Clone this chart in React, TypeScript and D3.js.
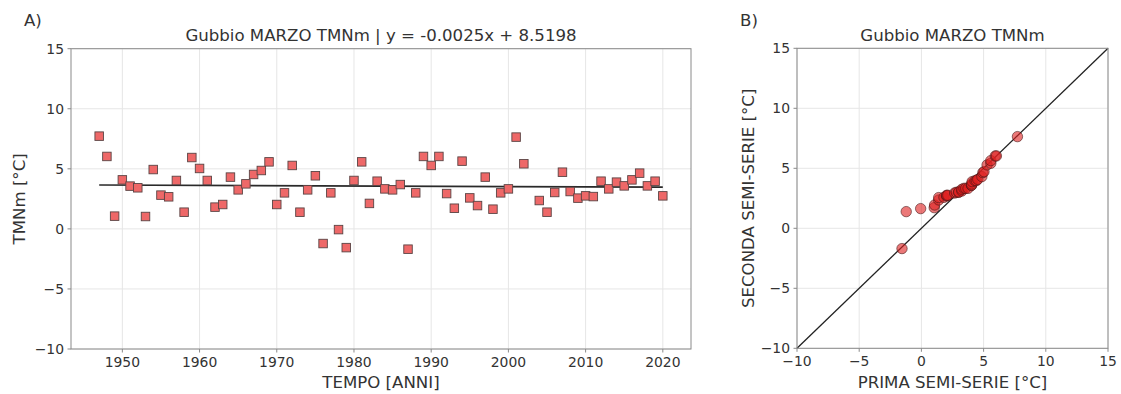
import React from "react";
import * as d3 from "d3";

// Annual March mean minimum temperature (TMNm) at Gubbio, °C
const years: number[] = [
  1947, 1948, 1949, 1950, 1951, 1952, 1953, 1954, 1955, 1956, 1957, 1958, 1959,
  1960, 1961, 1962, 1963, 1964, 1965, 1966, 1967, 1968, 1969, 1970, 1971, 1972,
  1973, 1974, 1975, 1976, 1977, 1978, 1979, 1980, 1981, 1982, 1983, 1984, 1985,
  1986, 1987, 1988, 1989, 1990, 1991, 1992, 1993, 1994, 1995, 1996, 1997, 1998,
  1999, 2000, 2001, 2002, 2004, 2005, 2006, 2007, 2008, 2009, 2010, 2011, 2012,
  2013, 2014, 2015, 2016, 2017, 2018, 2019, 2020,
];
const tmnm: number[] = [
  7.72, 6.03, 1.06, 4.08, 3.56, 3.42, 1.03, 4.94, 2.81, 2.67, 4.03, 1.39, 5.94,
  5.03, 4.03, 1.81, 2.03, 4.31, 3.25, 3.75, 4.53, 4.86, 5.58, 2.03, 3.0, 5.28,
  1.39, 3.25, 4.42, -1.22, 3.0, -0.06, -1.56, 4.03, 5.58, 2.12, 3.97, 3.33, 3.25,
  3.69, -1.69, 3.0, 6.03, 5.28, 6.03, 2.94, 1.72, 5.64, 2.58, 1.94, 4.31, 1.64,
  3.0, 3.33, 7.64, 5.42, 2.36, 1.39, 3.03, 4.72, 3.11, 2.56, 2.75, 2.69, 3.97,
  3.33, 3.89, 3.58, 4.08, 4.64, 3.58, 3.97, 2.75,
];

// Linear trend stated in the title
const trendSlope = -0.0025;
const trendIntercept = 8.5198;

const yTicks: number[] = [-10, -5, 0, 5, 10, 15];
const xTicksYears: number[] = [1950, 1960, 1970, 1980, 1990, 2000, 2010, 2020];
const qqTicks: number[] = [-10, -5, 0, 5, 10, 15];

const FONT = "DejaVu Sans, Verdana, sans-serif";
const TEXT = "#333";
const SPINE = "#8a8a8a";
const GRID = "#e6e6e6";
const TICK_FS = 13.9;
const LABEL_FS = 16.6;

const fmt = (v: number) => (v < 0 ? "\u2212" + Math.abs(v) : String(v));

export default function App() {
  // ---- panel A: time series ----
  const x0 = d3.min(years)!;
  const x1 = d3.max(years)!;
  const pad = (x1 - x0) * 0.05;
  const ax = { l: 71, r: 691, t: 48.7, b: 349 };
  const xs = d3.scaleLinear().domain([x0 - pad, x1 + pad]).range([ax.l, ax.r]);
  const ys = d3.scaleLinear().domain([-10, 15]).range([ax.b, ax.t]);
  const trendLine = d3
    .line<number>()
    .x((d) => xs(d))
    .y((d) => ys(trendSlope * d + trendIntercept));

  // ---- panel B: quantile-quantile of the two half series ----
  const half = Math.floor(tmnm.length / 2);
  const firstHalf = tmnm.slice(0, half).sort(d3.ascending);
  const secondHalf = tmnm.slice(tmnm.length - half).sort(d3.ascending);
  const qqPairs = firstHalf.map((v, i) => [v, secondHalf[i]] as [number, number]);
  const bx = { l: 797, r: 1108, t: 48.3, b: 348.3 };
  const qxs = d3.scaleLinear().domain([-10, 15]).range([bx.l, bx.r]);
  const qys = d3.scaleLinear().domain([-10, 15]).range([bx.b, bx.t]);

  const sq = 8.5;

  return (
    <svg
      width={1121}
      height={394}
      style={{ position: "absolute", left: 0, top: 0, background: "#fff" }}
      fontFamily={FONT}
    >
      <rect width={1121} height={394} fill="#fff" />

      {/* ===== Panel A ===== */}
      <text x={24} y={26} fontSize={LABEL_FS} fill={TEXT}>A)</text>
      <text x={(ax.l + ax.r) / 2} y={41} fontSize={LABEL_FS} fill={TEXT} textAnchor="middle">
        Gubbio MARZO TMNm | y = -0.0025x + 8.5198
      </text>
      <g>
        {xTicksYears.map((t) => (
          <line key={"gx" + t} x1={xs(t)} x2={xs(t)} y1={ax.t} y2={ax.b} stroke={GRID} strokeWidth={1} />
        ))}
        {yTicks.map((t) => (
          <line key={"gy" + t} x1={ax.l} x2={ax.r} y1={ys(t)} y2={ys(t)} stroke={GRID} strokeWidth={1} />
        ))}
      </g>
      <path
        d={trendLine([x0, x1]) || ""}
        fill="none"
        stroke="#2a2a2a"
        strokeWidth={1.7}
      />
      <g>
        {years.map((yr, i) => (
          <rect
            key={yr}
            x={xs(yr) - sq / 2}
            y={ys(tmnm[i]) - sq / 2}
            width={sq}
            height={sq}
            fill="#ee6868"
            stroke="#5a4444"
            strokeWidth={0.9}
          />
        ))}
      </g>
      <rect x={ax.l} y={ax.t} width={ax.r - ax.l} height={ax.b - ax.t} fill="none" stroke={SPINE} strokeWidth={1} />
      {xTicksYears.map((t) => (
        <g key={"xt" + t}>
          <line x1={xs(t)} x2={xs(t)} y1={ax.b} y2={ax.b + 3.5} stroke={SPINE} />
          <text x={xs(t)} y={ax.b + 7} dy="0.76em" fontSize={TICK_FS} fill={TEXT} textAnchor="middle">
            {t}
          </text>
        </g>
      ))}
      {yTicks.map((t) => (
        <g key={"yt" + t}>
          <line x1={ax.l - 3.5} x2={ax.l} y1={ys(t)} y2={ys(t)} stroke={SPINE} />
          <text x={ax.l - 7} y={ys(t)} dy="0.36em" fontSize={TICK_FS} fill={TEXT} textAnchor="end">
            {fmt(t)}
          </text>
        </g>
      ))}
      <text x={(ax.l + ax.r) / 2} y={388} fontSize={LABEL_FS} fill={TEXT} textAnchor="middle">
        TEMPO [ANNI]
      </text>
      <text
        transform={`translate(25,${(ax.t + ax.b) / 2}) rotate(-90)`}
        fontSize={LABEL_FS}
        fill={TEXT}
        textAnchor="middle"
      >
        TMNm [°C]
      </text>

      {/* ===== Panel B ===== */}
      <text x={740} y={26} fontSize={LABEL_FS} fill={TEXT}>B)</text>
      <text x={(bx.l + bx.r) / 2} y={41} fontSize={LABEL_FS} fill={TEXT} textAnchor="middle">
        Gubbio MARZO TMNm
      </text>
      <g>
        {qqTicks.map((t) => (
          <line key={"qgx" + t} x1={qxs(t)} x2={qxs(t)} y1={bx.t} y2={bx.b} stroke={GRID} strokeWidth={1} />
        ))}
        {qqTicks.map((t) => (
          <line key={"qgy" + t} x1={bx.l} x2={bx.r} y1={qys(t)} y2={qys(t)} stroke={GRID} strokeWidth={1} />
        ))}
      </g>
      <line x1={qxs(-10)} y1={qys(-10)} x2={qxs(15)} y2={qys(15)} stroke="#222" strokeWidth={1.3} />
      <g>
        {qqPairs.map(([a, b], i) => (
          <circle
            key={i}
            cx={qxs(a)}
            cy={qys(b)}
            r={5.2}
            fill="rgba(222,30,30,0.6)"
            stroke="rgba(70,20,20,0.65)"
            strokeWidth={0.9}
          />
        ))}
      </g>
      <rect x={bx.l} y={bx.t} width={bx.r - bx.l} height={bx.b - bx.t} fill="none" stroke={SPINE} strokeWidth={1} />
      {qqTicks.map((t) => (
        <g key={"qxt" + t}>
          <line x1={qxs(t)} x2={qxs(t)} y1={bx.b} y2={bx.b + 3.5} stroke={SPINE} />
          <text x={qxs(t)} y={bx.b + 7} dy="0.76em" fontSize={TICK_FS} fill={TEXT} textAnchor="middle">
            {fmt(t)}
          </text>
        </g>
      ))}
      {qqTicks.map((t) => (
        <g key={"qyt" + t}>
          <line x1={bx.l - 3.5} x2={bx.l} y1={qys(t)} y2={qys(t)} stroke={SPINE} />
          <text x={bx.l - 7} y={qys(t)} dy="0.36em" fontSize={TICK_FS} fill={TEXT} textAnchor="end">
            {fmt(t)}
          </text>
        </g>
      ))}
      <text x={(bx.l + bx.r) / 2} y={388} fontSize={LABEL_FS} fill={TEXT} textAnchor="middle">
        PRIMA SEMI-SERIE [°C]
      </text>
      <text
        transform={`translate(754,${(bx.t + bx.b) / 2}) rotate(-90)`}
        fontSize={LABEL_FS}
        fill={TEXT}
        textAnchor="middle"
      >
        SECONDA SEMI-SERIE [°C]
      </text>
    </svg>
  );
}
